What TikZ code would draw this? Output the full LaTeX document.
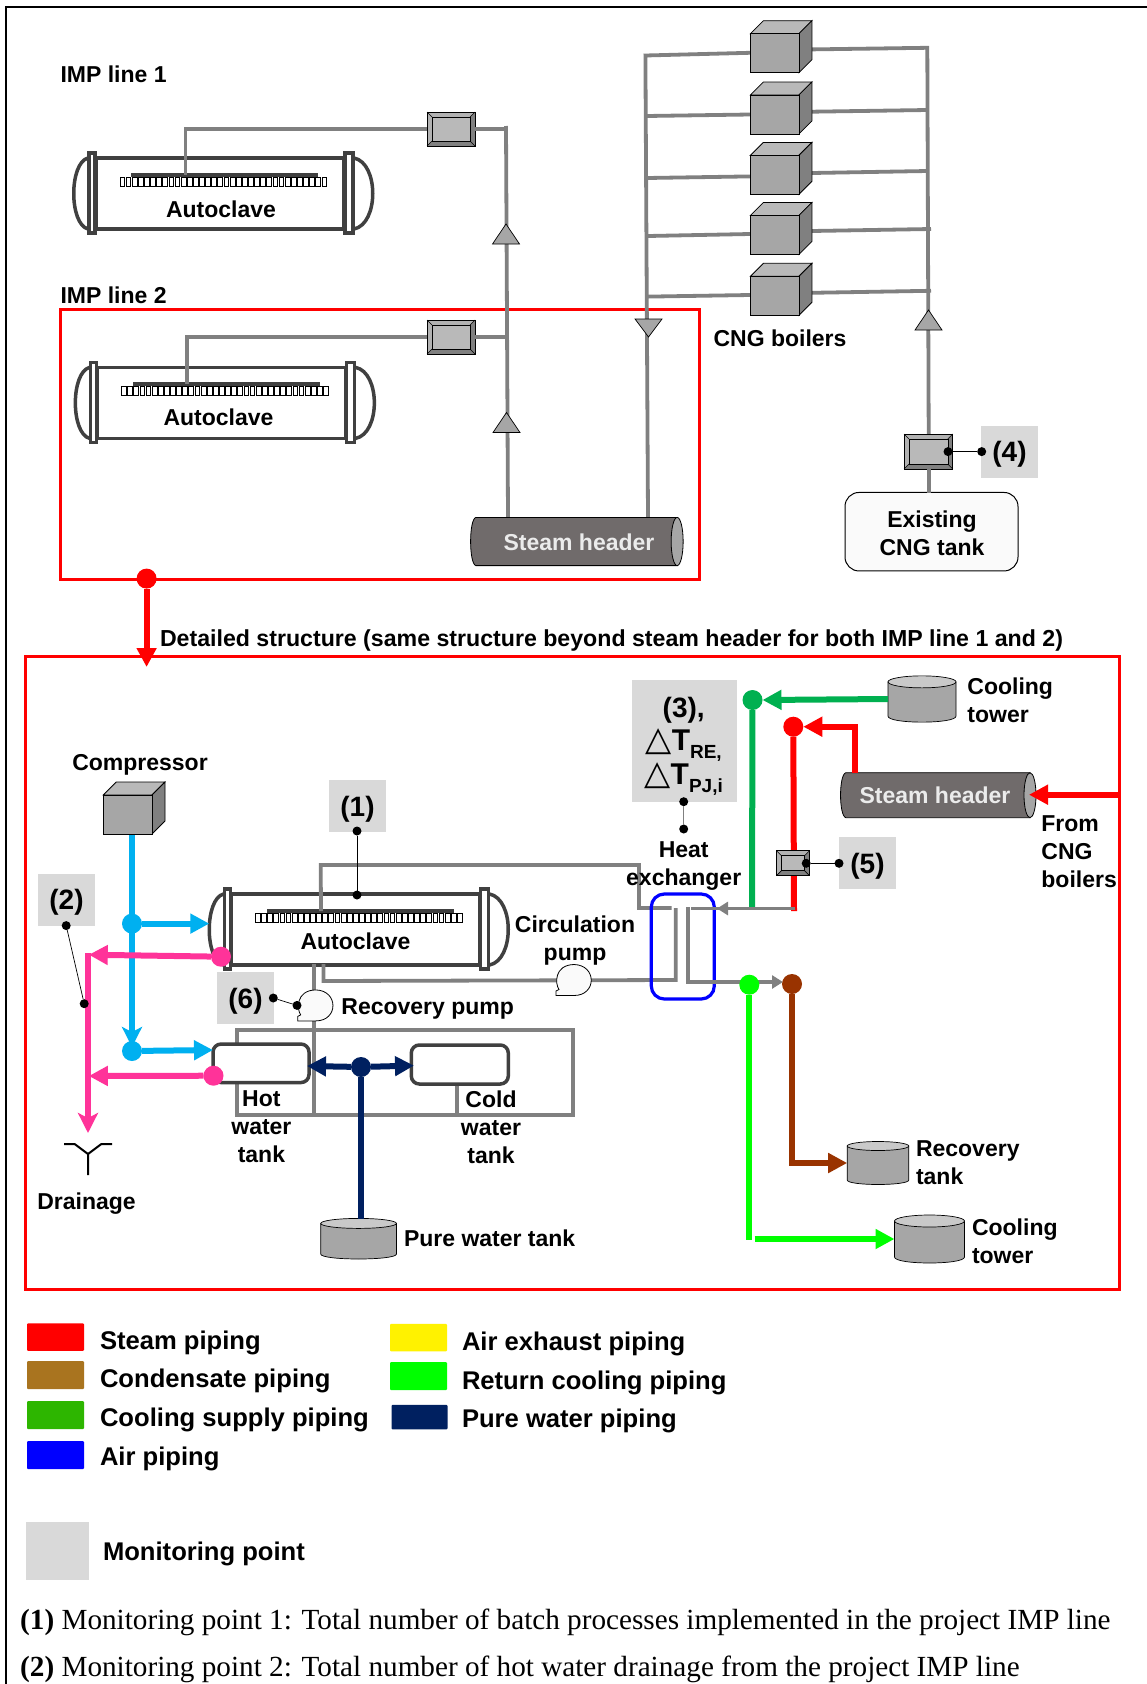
\documentclass[tikz,border=0pt]{standalone}
\usepackage{fontspec}
\setmainfont{Liberation Sans}
\newfontfamily\serifx{Liberation Serif}
\newfontfamily\djv{DejaVu Sans}
\usetikzlibrary{arrows.meta,calc}
\definecolor{pipegray}{HTML}{808080}
\definecolor{darkline}{HTML}{404040}
\definecolor{cyanp}{HTML}{00B0F0}
\definecolor{pinkp}{HTML}{FF3399}
\definecolor{navyp}{HTML}{002060}
\definecolor{greenp}{HTML}{00B050}
\definecolor{brownp}{HTML}{993300}
\definecolor{cond}{HTML}{A9741F}
\definecolor{coolsup}{HTML}{2DB600}
\definecolor{monit}{HTML}{D9D9D9}
\definecolor{hdr}{HTML}{706B6B}
\definecolor{eqgray}{HTML}{A6A6A6}
\tikzset{
 lbl/.style={inner sep=0pt,outer sep=0pt,align=center,font=\fontsize{23}{28}\selectfont\bfseries},
 lblleft/.style={lbl,align=left,anchor=west},
 mon/.style={fill=monit,inner sep=0pt,outer sep=0pt,font=\fontsize{28}{32}\selectfont\bfseries},
 monsq/.style={mon,minimum width=57pt,minimum height=51.6pt,text height=24pt,text depth=4pt},
 dotb/.style={circle,fill=black,inner sep=0pt,outer sep=0pt,minimum size=9pt},
 jn/.style={circle,inner sep=0pt,outer sep=0pt,minimum size=20pt},
 gp/.style={draw=pipegray,line width=3.8pt},
 thin lead/.style={draw=black,line width=0.7pt},
 headT/.style={-{Triangle[length=19pt,width=19pt]}},
 headS/.style={-{Stealth[length=20pt,width=20pt,inset=5pt]}},
 cp/.style={draw=cyanp,line width=6pt},
 pk/.style={draw=pinkp,line width=6pt},
 nv/.style={draw=navyp,line width=6pt},
 sw/.style={inner sep=0pt,outer sep=0pt,rounded corners=1pt},
 leg/.style={inner sep=0pt,outer sep=0pt,anchor=west,font=\fontsize{25.6}{30}\selectfont\bfseries},
 box/.style={inner sep=0pt,outer sep=0pt},
 tri/.style={draw=black,line width=0.7pt,fill=eqgray},
}
% autoclave: name, x, y (top left of body)
\newcommand{\autoclave}[3]{%
 \node[box,minimum width=248pt,minimum height=71pt] (#1) at (#2+124,#3+35.5) {};
 \begin{scope}[shift={(#2,#3)}]
  \draw[darkline,line width=3.5pt,fill=white] (0,0) rectangle (248,71);
  \draw[darkline,line width=3.5pt] (-8,0) .. controls (-27,5) and (-27,66) .. (-8,71);
  \draw[darkline,line width=3.5pt] (258,0) .. controls (283,5) and (283,66) .. (258,71);
  \draw[darkline,line width=3.2pt,fill=white] (-7,-5) rectangle (-1,75);
  \draw[darkline,line width=3.2pt,fill=white] (249,-5) rectangle (257,75);
  \fill[darkline] (35,15) rectangle (222,19);
  \foreach \i in {0,...,33} \draw[black,line width=0.9pt,fill=white] (24+6.12*\i,19.5) rectangle ++(4.8,9);
  \coordinate (#1in) at (89.5,17);
 \end{scope}}
% valve: name, cx, cy, w, h
\newcommand{\valve}[5]{%
 \node[box,minimum width=#4pt,minimum height=#5pt,draw=black,line width=0.7pt,fill=pipegray] (#1) at (#2,#3) {};
 \fill[gray!60] (#1.north west) -- (#1.north east) -- ([shift={(-5,5)}]#1.north east) -- ([shift={(5,5)}]#1.north west) -- ([shift={(5,-5)}]#1.south west) -- (#1.south west) -- cycle;
 \draw[black,line width=0.6pt,fill=gray!55] ([shift={(5,5)}]#1.north west) rectangle ([shift={(-5,-5)}]#1.south east);
 \draw[black,line width=0.6pt] (#1.north west) -- ([shift={(5,5)}]#1.north west) (#1.north east) -- ([shift={(-5,5)}]#1.north east) (#1.south west) -- ([shift={(5,-5)}]#1.south west) (#1.south east) -- ([shift={(-5,-5)}]#1.south east);
 \draw[black,line width=0.7pt] (#1.north west) rectangle (#1.south east);}
% cube: name, x, y of front top-left, w, h, d
\newcommand{\cube}[6]{%
 \node[box,minimum width=#4pt,minimum height=#5pt] (#1) at (#2+#4/2,#3+#5/2) {};
 \draw[black,line width=0.8pt,fill=gray!55] (#1.north west) -- ++(#6,-#6) -- ++(#4,0) -- (#1.north east) -- cycle;
 \draw[black,line width=0.8pt,fill=pipegray] (#1.north east) -- ++(#6,-#6) -- ++(0,#5) -- (#1.south east) -- cycle;
 \draw[black,line width=0.8pt,fill=eqgray] (#1.north west) rectangle (#1.south east);
 \coordinate (#1r) at ($(#1.east)+(#6,0)$);}
% tank: name, cx, cy, w, h, r
\newcommand{\tank}[6]{%
 \node[box,minimum width=#4pt,minimum height=#5pt] (#1) at (#2,#3) {};
 \draw[black,line width=0.7pt,fill=eqgray] ([shift={(0,#6)}]#1.north west) -- ([shift={(0,-#6)}]#1.south west) .. controls +(0,#6*1.33) and +(0,#6*1.33) .. ([shift={(0,-#6)}]#1.south east) -- ([shift={(0,#6)}]#1.north east) -- cycle;
 \draw[black,line width=0.7pt,fill=gray!42] ([shift={(0,#6)}]#1.north) ellipse [x radius=#4/2*1pt,y radius=#6*1pt];}
% header: name, cx, cy, w, h
\newcommand{\header}[5]{%
 \node[box,minimum width=#4pt,minimum height=#5pt] (#1) at (#2,#3) {};
 \draw[black,line width=0.8pt,fill=hdr] ([shift={(-6,0)}]#1.north east) -- ([shift={(5,0)}]#1.north west) .. controls ([shift={(-2,2)}]#1.north west) and ([shift={(-2,-2)}]#1.south west) .. ([shift={(5,0)}]#1.south west) -- ([shift={(-6,0)}]#1.south east) -- cycle;
 \draw[black,line width=0.8pt,fill=eqgray] ([shift={(-6,0)}]#1.east) ellipse [x radius=6pt,y radius=#5/2*1pt];}
% pump: name, cx, cy
\newcommand{\pump}[3]{%
 \node[box,minimum width=35pt,minimum height=31pt] (#1) at (#2,#3) {};
 \draw[black,line width=0.8pt,fill=white!98!black] ([shift={(-10,15.5)}]#1.center) -- ([shift={(-18,15.5)}]#1.center) -- ([shift={(-18,11)}]#1.center) -- ([shift={(-15,9.5)}]#1.center) .. controls ([shift={(-19,4)}]#1.center) and ([shift={(-20,-15)}]#1.center) .. ([shift={(0,-15.5)}]#1.center) .. controls ([shift={(23,-15)}]#1.center) and ([shift={(23,15.5)}]#1.center) .. ([shift={(0,15.5)}]#1.center) -- cycle;}
\newcommand{\triup}[3]{%
 \coordinate (#1) at (#2,#3);
 \draw[tri] ([shift={(0,-10)}]#1) -- ([shift={(13.5,10)}]#1) -- ([shift={(-13.5,10)}]#1) -- cycle;}
\newcommand{\tridown}[3]{%
 \coordinate (#1) at (#2,#3);
 \draw[tri] ([shift={(0,9)}]#1) -- ([shift={(13.5,-9)}]#1) -- ([shift={(-13.5,-9)}]#1) -- cycle;}
\newcommand{\sbs}[1]{\raisebox{-8pt}{\fontsize{19}{19}\selectfont\bfseries #1}}
\newcommand{\trg}{{\djv\fontsize{34}{34}\selectfont\mdseries △}}
\begin{document}
\begin{tikzpicture}[x=1pt,y=-1pt]
\useasboundingbox (0,0) rectangle (1147,1684);
\fill[white] (0,0) rectangle (1147,1684);
% frame
\coordinate (fa) at (6,1684); \coordinate (fb) at (6,7); \coordinate (fc) at (1147,7);
\draw[black,line width=2pt] (fa) -- (fb) -- (fc);
% red boxes
\node[box,draw=red,line width=3pt,minimum width=639pt,minimum height=270pt] (rb1) at (379.7,444) {};
\node[box,draw=red,line width=3pt,minimum width=1094pt,minimum height=633pt] (rb2) at (572.5,972.5) {};
% equipment top
\autoclave{ac1}{96}{158}
\autoclave{ac2}{97.6}{367.4}
\autoclave{ac3}{231.5}{894}
\valve{v1}{451}{129}{48}{34}
\valve{v2}{451}{337}{48}{34}
\coordinate (j1) at (506,129);
\coordinate (j1t) at (506,126);
\coordinate (j2) at (506.5,337);
\coordinate (h1a) at (508,517.4);
\coordinate (h1c) at (648,517.4);
% gray pipes top
\draw[gp] (ac1in) |- (v1.west);
\draw[gp] (ac2in) |- (v2.west);
\draw[gp] (v1.east) -- (j1);
\draw[gp] (v2.east) -- (j2);
\draw[gp] (h1a) -- (j1t);
% boilers pipes
\coordinate (lt) at (645.4,55.5);
\coordinate (rt) at (927.3,47.8);
\coordinate (l2) at (646.5,116);
\coordinate (l3) at (647,178);
\coordinate (l4) at (648,236);
\coordinate (l5) at (648,296.6);
\coordinate (r2) at (927.5,110);
\coordinate (r3) at (927.5,171);
\coordinate (r4) at (931,229);
\coordinate (r5) at (931,290.8);
\coordinate (rv) at (928.7,434);
\coordinate (b1l) at (750,52.8); \coordinate (b1r) at (812,49.4);
\coordinate (b2l) at (750,114.5); \coordinate (b2r) at (812,111.7);
\coordinate (b3l) at (750,176.4); \coordinate (b3r) at (812,173);
\coordinate (b4l) at (750,234); \coordinate (b4r) at (812,231);
\coordinate (b5l) at (750,295); \coordinate (b5r) at (812,292.8);
\draw[gp] (b1l) -- (lt) -- (h1c);
\draw[gp] (b2l) -- (l2); \draw[gp] (b3l) -- (l3); \draw[gp] (b4l) -- (l4); \draw[gp] (b5l) -- (l5);
\draw[gp] (b1r) -- (rt) -- (rv);
\draw[gp] (b2r) -- (r2); \draw[gp] (b3r) -- (r3); \draw[gp] (b4r) -- (r4); \draw[gp] (b5r) -- (r5);
\cube{b1}{750.4}{33.7}{48.5}{39}{13}
\cube{b2}{750.4}{95}{48.5}{39}{13}
\cube{b3}{750.4}{155.4}{48.5}{39}{13}
\cube{b4}{750.4}{215.5}{48.5}{39}{13}
\cube{b5}{750.4}{276.3}{48.5}{39}{13}
\triup{t1}{506}{234}
\triup{t2}{506.5}{422.5}
\tridown{t3}{648.5}{328}
\triup{t4}{928.5}{320}
\header{h1}{577}{541.5}{212.3}{48.2}
% CNG tank & valve
\node[box,draw=black,line width=1pt,fill=white!98!black,rounded corners=14pt,minimum width=173pt,minimum height=78.5pt] (cng) at (931.5,531.7) {};
\valve{v4}{928.4}{451.5}{48.8}{35}
\coordinate (v4b) at (928.7,469);
\coordinate (cngt) at (928.7,492.5);
\draw[gp] (v4b) -- (cngt);
\node[monsq] (m4) at (1009.5,451.8) {(4)};
\node[dotb] (d4a) at (948,451.6) {};
\node[dotb] (d4b) at (981.7,451.6) {};
\draw[thin lead] (d4a) -- (d4b);
% link between boxes
\node[jn,fill=red] (rd1) at (146.6,578.6) {};
\coordinate (rd2) at (146.6,667);
\draw[draw=red,line width=6pt,headT] (rd1) -- (rd2);
% gray pipes detail
\coordinate (a) at (320.7,865); \coordinate (b) at (639,865); \coordinate (c) at (639,908); \coordinate (d) at (671.5,908); \coordinate (e) at (675.7,908);
\coordinate (p1) at (323.4,964); \coordinate (p2) at (323.4,981);
\coordinate (p3) at (675.7,980);
\coordinate (q1) at (688,907); \coordinate (q2) at (688,982);
\coordinate (s1) at (795.4,908.5); \coordinate (s2) at (691.4,908.5); \coordinate (s3) at (717,908.5);
\coordinate (k1) at (313.8,964); \coordinate (k2) at (313.8,1115);
\coordinate (f1) at (237.3,1044); \coordinate (f2) at (237.3,1029.7); \coordinate (f3) at (573,1029.7); \coordinate (f4) at (573,1115); \coordinate (f5) at (237.3,1115); \coordinate (f6) at (237.3,1082);
\coordinate (f7) at (457.3,1083); \coordinate (f8) at (457.3,1115);
\draw[gp] (k1) -- (k2);
\draw[gp] (f6) -- (f5) -- (f4) -- (f3) -- (f2) -- (f1);
\draw[gp] (f7) -- (f8);
\node[box,draw=darkline,line width=3.5pt,fill=white,rounded corners=8pt,minimum width=96pt,minimum height=38.5pt] (hot) at (261,1063.3) {};
\node[box,draw=darkline,line width=3.5pt,fill=white,rounded corners=8pt,minimum width=97pt,minimum height=39pt] (cold) at (459.8,1064.5) {};
\draw[gp] (ac3in) -- (a) -- (b) -- (c) -- (d);
\draw[gp] (e) -- (p3) -- (p2) -- (p1);
% blue hx
\node[box,draw=blue,line width=3.2pt,rounded corners=13pt,minimum width=63pt,minimum height=105pt] (hx) at (682.8,946.5) {};
\pump{cp1}{574}{980}
\pump{rp}{315.7}{1005.4}
% cyan
\coordinate (cmp) at (132,834);
\node[jn,fill=cyanp] (cj1) at (132,923.6) {};
\node[jn,fill=cyanp] (cj2) at (132,1051) {};
\coordinate (cj2t) at (132,1047);
\coordinate (cta) at (209.3,923.6);
\coordinate (ctb) at (213,1050);
\draw[cp,headS] (cmp) -- (cj2t);
\draw[cp,headT] (cj1) -- (cta);
\draw[cp,headT] (cj2) -- (ctb);
\cube{comp}{103.3}{795}{48.7}{39}{13}
% pink
\node[jn,fill=pinkp] (pd1) at (221,956.7) {};
\node[jn,fill=pinkp] (pd2) at (213.5,1075.7) {};
\coordinate (pv1) at (88,953); \coordinate (pv2) at (88,1133);
\coordinate (pa1) at (88.8,954.7); \coordinate (pa2) at (88.8,1076);
\draw[pk,headS] (pv1) -- (pv2);
\draw[pk,headT] (pd1) -- (pa1);
\draw[pk,headT] (pd2) -- (pa2);
% drain
\coordinate (y0) at (88,1175); \coordinate (y1) at (88,1154); \coordinate (y2) at (74.6,1144); \coordinate (y3) at (64,1144); \coordinate (y4) at (101.4,1144); \coordinate (y5) at (112,1144);
\draw[black,line width=2pt] (y0) -- (y1) -- (y2) -- (y3);
\draw[black,line width=2pt] (y1) -- (y4) -- (y5);
% navy
\tank{pw}{358.6}{1238.7}{75.8}{40.6}{5}
\node[jn,fill=navyp] (nj) at (361,1067) {};
\coordinate (nl) at (307,1066); \coordinate (nr) at (414,1065.6); \coordinate (nb) at (361,1219);
\draw[nv] (nj) -- (nb);
\draw[nv,headT] (nj) -- (nl);
\draw[nv,headT] (nj) -- (nr);
% heat exchanger right side
\tank{ct1}{922}{699}{68}{46.3}{6}
\tank{ct2}{929.5}{1239}{70}{48}{6}
\tank{rtk}{878}{1163}{61.6}{43}{4.5}
\node[jn,fill=greenp] (gd) at (752.5,700) {};
\coordinate (gb) at (752,908);
\draw[draw=greenp,line width=6pt] (gd) -- (gb);
\draw[draw=greenp,line width=6pt,headT] (ct1.west) -- (gd.east);
\node[jn,fill=red] (rd) at (793.3,726.7) {};
\coordinate (rb) at (794,911);
\draw[draw=red,line width=6pt] (rd) -- (rb);
\header{h2}{938.4}{795.2}{195.2}{45}
\coordinate (h2t) at (855.4,772.7);
\draw[draw=red,line width=6pt,headT] (h2t) |- (rd.east);
\coordinate (fr) at (1120,794.7); \coordinate (frt) at (1029,794.7);
\draw[draw=red,line width=6pt,headT] (fr) -- (frt);
\draw[gp] (s1) -- (s2);
\draw[draw=pipegray,line width=3.8pt,-{Triangle[length=11pt,width=13pt]}] (s1) -- (s3);
\draw[gp] (q1) -- (q2) -- (749,982);
\draw[draw=pipegray,line width=3.8pt,-{Triangle[length=11pt,width=13pt]}] (q2) -- (783,982);
\node[jn,fill=green] (ld) at (749.3,984.7) {};
\node[jn,fill=brownp] (bd) at (792,984) {};
\coordinate (lc) at (749.3,1239.5);
\coordinate (lc2) at (754.5,1239);
\coordinate (bc) at (792,1163);
\draw[draw=green,line width=6pt] (ld) -- (lc);
\draw[draw=green,line width=6pt,headT] (lc2) -- (ct2.west);
\draw[draw=brownp,line width=6pt,headT] (bd) -- (bc) -- (rtk.west);
\valve{v5}{793}{863.2}{33.2}{25}
% monitoring
\node[monsq] (m1) at (357.5,806) {(1)};
\node[monsq] (m2) at (66.5,899.8) {(2)};
\node[monsq] (m5) at (867.5,863) {(5)};
\node[monsq] (m6) at (245.5,998) {(6)};
\node[box,fill=monit,minimum width=105pt,minimum height=121.7pt] (m3) at (684.5,740.8) {};
\node[dotb] (d1a) at (357,831) {};
\node[dotb] (d1b) at (357,895) {};
\draw[thin lead] (d1a) -- (d1b);
\node[dotb] (d2a) at (66.2,925.6) {};
\node[dotb] (d2b) at (84.2,1003.7) {};
\draw[thin lead] (d2a) -- (d2b);
\node[dotb] (d3a) at (683.7,801.7) {};
\node[dotb] (d3b) at (683.7,829) {};
\draw[draw=gray,line width=1pt] (d3a) -- (d3b);
\node[dotb] (d5a) at (806.2,863.3) {};
\node[dotb] (d5b) at (839,863.3) {};
\draw[thin lead] (d5a) -- (d5b);
\node[dotb] (d6a) at (273.3,998) {};
\node[dotb] (d6b) at (297,1005.4) {};
\draw[thin lead] (d6a) -- (d6b);
% m3 texts
\node[inner sep=0pt,font=\fontsize{28}{32}\selectfont\bfseries] (m3a) at (683.7,710) {(3),};
\node[inner sep=0pt,font=\fontsize{30}{32}\selectfont\bfseries] (m3b) at (683.7,745) {\trg T\sbs{RE,}};
\node[inner sep=0pt,font=\fontsize{30}{32}\selectfont\bfseries] (m3c) at (683.7,779) {\trg T\sbs{PJ,i}};
% labels
\node[lblleft] (tl1) at (60.5,74) {IMP line 1};
\node[lblleft] (tl2) at (60.5,295) {IMP line 2};
\node[lbl] (ta1) at (221,209) {Autoclave};
\node[lbl] (ta2) at (218.5,417) {Autoclave};
\node[lbl] (ta3) at (355.5,941.5) {Autoclave};
\node[lbl,text=white!92!black] (th1) at (579,542.5) {Steam header};
\node[lbl,text=white!92!black] (th2) at (935,795) {Steam header};
\node[lbl] (tb) at (780,338) {CNG boilers};
\node[lbl] (tc) at (932,533) {Existing\\CNG tank};
\node[lblleft,font=\fontsize{23.15}{28}\selectfont\bfseries] (td) at (160,641) {Detailed structure (same structure beyond steam header for both IMP line 1 and 2)};
\node[lbl] (te) at (140,765) {Compressor};
\node[lbl] (tf) at (86.5,1203.5) {Drainage};
\node[lbl] (tg) at (575,941) {Circulation\\pump};
\node[lblleft] (tr) at (341.4,1009) {Recovery pump};
\node[lbl] (thx) at (683.7,866) {Heat\\exchanger};
\node[lblleft] (tct) at (967.4,700) {Cooling\\tower};
\node[lblleft] (tfr) at (1041.4,852) {From\\CNG\\boilers};
\node[lblleft] (trt) at (916,1163) {Recovery\\tank};
\node[lblleft] (tct2) at (972,1241.5) {Cooling\\tower};
\node[lblleft] (tpw) at (404,1238.6) {Pure water tank};
\node[lbl] (tht) at (261.4,1127) {Hot\\water\\tank};
\node[lbl] (tcw) at (491,1127) {Cold\\water\\tank};
% legend
\node[sw,fill=red,minimum width=57pt,minimum height=27.5pt] (s1a) at (55.5,1337) {};
\node[sw,fill=cond,minimum width=57pt,minimum height=28pt] (s2a) at (55.5,1375) {};
\node[sw,fill=coolsup,minimum width=57pt,minimum height=28pt] (s3a) at (55.5,1415) {};
\node[sw,fill=blue,minimum width=57pt,minimum height=28pt] (s4a) at (55.5,1455) {};
\node[sw,fill=yellow,minimum width=57pt,minimum height=27.5pt] (s5a) at (418.5,1337.5) {};
\node[sw,fill=green,minimum width=57pt,minimum height=28pt] (s6a) at (418.5,1376) {};
\node[sw,fill=navyp,minimum width=56pt,minimum height=24.5pt] (s7a) at (419.5,1417) {};
\node[box,fill=monit,minimum width=63pt,minimum height=58pt] (s8a) at (57.5,1551) {};
\node[leg] (l1) at (100,1343) {Steam piping};
\node[leg] (l2t) at (100,1381) {Condensate piping};
\node[leg] (l3t) at (100,1420) {Cooling supply piping};
\node[leg] (l4t) at (100,1459) {Air piping};
\node[leg] (l5t) at (462,1344) {Air exhaust piping};
\node[leg] (l6t) at (462,1382.7) {Return cooling piping};
\node[leg] (l7t) at (462,1421) {Pure water piping};
\node[leg] (l8t) at (103,1553.7) {Monitoring point};
\node[inner sep=0pt,anchor=west,font=\serifx\fontsize{29.2}{32}\selectfont] (n1) at (20,1622) {\textbf{(1)} Monitoring point 1: Total number of batch processes implemented in the project IMP line};
\node[inner sep=0pt,anchor=west,font=\serifx\fontsize{29.2}{32}\selectfont] (n2) at (20,1669) {\textbf{(2)} Monitoring point 2: Total number of hot water drainage from the project IMP line};
\end{tikzpicture}
\end{document}
